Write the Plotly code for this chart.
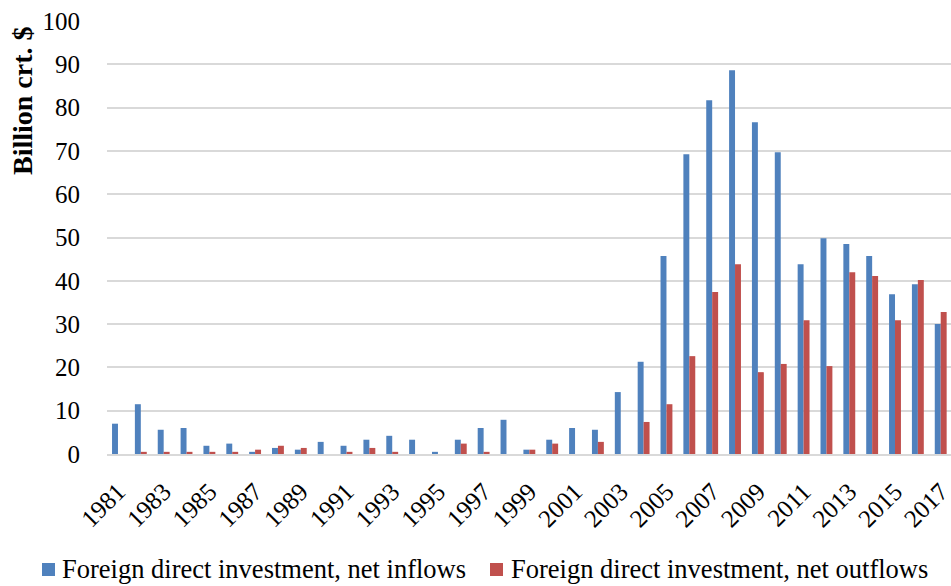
import plotly.graph_objects as go

years = list(range(1981, 2018))
inflows = [7.0, 11.5, 5.6, 6.0, 1.9, 2.4, 0.5, 1.4, 1.0, 2.8, 1.9, 3.3, 4.2, 3.3, 0.5,
           3.3, 6.0, 7.9, 1.0, 3.3, 6.0, 5.6, 14.3, 21.3, 45.7, 69.2, 81.7, 88.6, 76.6,
           69.7, 43.8, 49.8, 48.5, 45.7, 36.9, 39.2, 30.0]
outflows = [0.0, 0.5, 0.5, 0.5, 0.5, 0.5, 1.0, 1.9, 1.4, 0.0, 0.5, 1.4, 0.5, 0.0, 0.0,
            2.4, 0.5, 0.0, 1.0, 2.4, 0.0, 2.8, 0.0, 7.4, 11.5, 22.6, 37.4, 43.8, 18.9,
            20.8, 30.9, 20.3, 42.0, 41.1, 30.9, 40.2, 32.8]
series_names = ["Foreign direct investment, net inflows",
                "Foreign direct investment, net outflows"]
series_colors = ["#4F81BD", "#C0504D"]
tick_years = list(range(1981, 2018, 2))
y_ticks = list(range(0, 101, 10))

FONT = "Liberation Serif, Times New Roman, serif"

W, H = 951, 586
L, R, T, B = 107, 0, 21, 132
PW, PH = W - L - R, H - T - B


def px_to_paper_x(px):
    return (px - L) / PW


def px_to_paper_y(py):
    return (H - B - py) / PH


fig = go.Figure()
for name, vals, col in zip(series_names, [inflows, outflows], series_colors):
    fig.add_trace(go.Bar(x=years, y=vals, name=name, showlegend=False,
                         marker=dict(color=col, line=dict(width=0))))

# manual legend (compact, like the original)
legend_items = [(42, 60), (490, 509)]  # (square left px, text left px)
shapes, annotations = [], []
for (sq_x, tx_x), name, col in zip(legend_items, series_names, series_colors):
    shapes.append(dict(type="rect", xref="paper", yref="paper",
                       x0=px_to_paper_x(sq_x), x1=px_to_paper_x(sq_x + 13),
                       y0=px_to_paper_y(576), y1=px_to_paper_y(563),
                       fillcolor=col, line=dict(width=0)))
    annotations.append(dict(text=name, xref="paper", yref="paper",
                            x=px_to_paper_x(tx_x), y=px_to_paper_y(569),
                            xanchor="left", yanchor="middle", showarrow=False,
                            font=dict(size=26.5, family=FONT, color="black")))

annotations.append(dict(text="<b>Billion crt. $</b>", xref="paper", yref="paper",
                        x=px_to_paper_x(23), y=px_to_paper_y(101),
                        xanchor="center", yanchor="middle", textangle=-90,
                        showarrow=False, font=dict(size=28, family=FONT, color="black")))

fig.update_layout(
    width=W, height=H,
    margin=dict(l=L, r=R, t=T, b=B),
    paper_bgcolor="white", plot_bgcolor="white",
    barmode="group", bargap=0.48, bargroupgap=0,
    font=dict(family=FONT, size=25, color="black"),
    showlegend=False,
    shapes=shapes, annotations=annotations,
    xaxis=dict(range=[1980.52, 2017.45], tickmode="array", tickvals=tick_years,
               ticktext=[str(y) for y in tick_years], tickangle=-45,
               showgrid=False, zeroline=False, showline=True, automargin=False,
               linecolor="#d9d9d9", linewidth=2,
               ticks="outside", ticklen=11, tickcolor="rgba(0,0,0,0)",
               ticklabeloverflow="allow", tickfont=dict(size=25)),
    yaxis=dict(range=[0, 100], tickmode="array", tickvals=y_ticks,
               showgrid=True, gridcolor="#d9d9d9", gridwidth=2, automargin=False,
               zeroline=False, showline=False,
               ticks="outside", ticklen=21, tickcolor="rgba(0,0,0,0)",
               ticklabeloverflow="allow", tickfont=dict(size=25)),
)

fig.write_html("out.html", config={"displayModeBar": False},
               post_script="document.body.style.margin='0';document.body.style.overflow='hidden';")
